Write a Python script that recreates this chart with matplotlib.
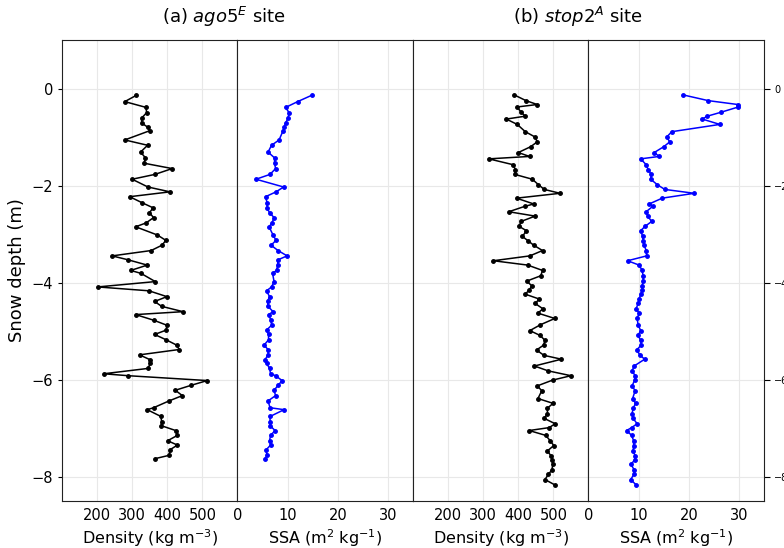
import matplotlib
matplotlib.use('Agg')
import matplotlib.pyplot as plt
import numpy as np

# site (a) ago5E
depth_a = [-0.14, -0.27, -0.39, -0.50, -0.61, -0.71, -0.80, -0.87, -1.06, -1.17,
           -1.31, -1.43, -1.54, -1.65, -1.77, -1.87, -2.03, -2.13, -2.23, -2.35,
           -2.46, -2.56, -2.66, -2.77, -2.85, -3.02, -3.13, -3.23, -3.34, -3.45,
           -3.53, -3.64, -3.75, -3.81, -3.98, -4.09, -4.17, -4.29, -4.39, -4.49,
           -4.60, -4.66, -4.78, -4.88, -4.98, -5.07, -5.18, -5.29, -5.38, -5.49,
           -5.59, -5.66, -5.77, -5.88, -5.92, -6.02, -6.12, -6.22, -6.33, -6.44,
           -6.58, -6.62, -6.76, -6.87, -6.95, -7.05, -7.15, -7.26, -7.35, -7.45,
           -7.56, -7.63]
dens_a = [312, 279, 340, 341, 327, 327, 345, 350, 279, 344,
          324, 338, 334, 414, 365, 300, 345, 408, 293, 327,
          360, 349, 361, 340, 310, 372, 396, 385, 354, 243,
          288, 343, 296, 325, 366, 202, 348, 399, 364, 384,
          445, 310, 363, 399, 397, 364, 397, 427, 434, 321,
          351, 352, 345, 219, 289, 514, 467, 423, 443, 405,
          361, 343, 382, 384, 383, 424, 429, 401, 429, 407,
          406, 365]
ssa_a = [14.8, 12.0, 9.6, 10.3, 10.1, 9.6, 9.3, 9.1, 8.3, 6.8,
         6.1, 7.4, 7.4, 7.6, 6.5, 3.7, 9.2, 7.7, 5.6, 5.9,
         5.9, 6.4, 7.3, 6.9, 6.3, 7.1, 7.7, 6.7, 8.1, 9.9,
         8.1, 8.0, 7.8, 7.0, 7.3, 6.8, 5.8, 6.4, 6.0, 6.1,
         7.1, 6.2, 6.7, 6.8, 5.8, 6.2, 6.2, 5.3, 6.1, 6.1,
         5.5, 5.8, 6.4, 6.6, 7.6, 8.9, 8.1, 7.3, 7.6, 6.1,
         6.5, 9.3, 6.5, 6.5, 6.5, 7.5, 6.6, 6.4, 6.6, 5.7,
         5.9, 5.5]

# site (b) stop2A
depth_b = [-0.13, -0.25, -0.33, -0.38, -0.49, -0.57, -0.63, -0.74, -0.89, -1.00,
           -1.10, -1.20, -1.32, -1.40, -1.45, -1.57, -1.67, -1.77, -1.87, -1.98,
           -2.08, -2.16, -2.26, -2.38, -2.43, -2.54, -2.63, -2.74, -2.84, -2.93,
           -3.05, -3.14, -3.23, -3.34, -3.45, -3.55, -3.64, -3.75, -3.86, -3.97,
           -4.07, -4.16, -4.24, -4.34, -4.43, -4.54, -4.63, -4.74, -4.87, -4.99,
           -5.09, -5.19, -5.29, -5.39, -5.50, -5.58, -5.72, -5.82, -5.92, -6.01,
           -6.13, -6.23, -6.39, -6.49, -6.59, -6.70, -6.80, -6.91, -6.99, -7.05,
           -7.15, -7.26, -7.36, -7.47, -7.57, -7.65, -7.75, -7.86, -7.95, -8.06,
           -8.17]
dens_b = [388, 422, 454, 397, 408, 420, 366, 397, 420, 448,
          454, 435, 400, 432, 316, 385, 392, 390, 440, 457,
          474, 519, 395, 444, 418, 373, 448, 408, 402, 423,
          412, 428, 444, 469, 433, 329, 427, 469, 464, 424,
          439, 430, 420, 460, 448, 470, 456, 504, 463, 433,
          462, 476, 472, 452, 473, 523, 446, 485, 550, 498,
          454, 467, 456, 499, 483, 483, 474, 505, 488, 431,
          478, 491, 501, 483, 493, 497, 498, 496, 486, 476,
          504]
ssa_b = [18.8, 23.9, 29.8, 29.9, 26.4, 23.7, 22.7, 26.2, 16.6, 15.6,
         16.2, 15.0, 13.1, 14.1, 10.4, 11.5, 11.9, 12.5, 12.4, 13.7,
         15.2, 21.1, 14.7, 12.1, 12.8, 11.5, 11.8, 12.6, 11.3, 10.4,
         10.8, 10.9, 11.1, 11.5, 11.6, 7.8, 10.1, 10.7, 10.9, 10.9,
         10.7, 10.7, 10.4, 10.1, 9.9, 9.5, 10.1, 9.7, 9.9, 10.4,
         9.9, 10.4, 10.5, 9.6, 10.3, 11.2, 9.1, 8.7, 9.3, 9.2,
         8.7, 9.3, 8.8, 9.4, 8.9, 8.7, 8.9, 9.7, 8.6, 7.6,
         8.6, 9.0, 9.0, 8.9, 9.3, 9.2, 8.5, 9.1, 9.1, 8.4,
         9.5]

titles = ['(a) $ago5^E$ site', '(b) $stop2^A$ site']
dens_label = 'Density (kg m$^{-3}$)'
ssa_label = 'SSA (m$^2$ kg$^{-1}$)'

fig, axes = plt.subplots(1, 4, figsize=(7.84, 5.48), sharey=True)
fig.subplots_adjust(left=0.079, right=0.9745, top=0.927, bottom=0.086, wspace=0)

series = [(depth_a, dens_a, 'k'), (depth_a, ssa_a, 'b'),
          (depth_b, dens_b, 'k'), (depth_b, ssa_b, 'b')]
for i, (ax, (d, v, c)) in enumerate(zip(axes, series)):
    ax.plot(v, d, '.-', color=c, lw=1.1, ms=5)
    ax.grid(True, color='#e8e8e8', lw=0.8)
    ax.set_axisbelow(True)
    for sp in ax.spines.values():
        sp.set_color('#222222')
    if i % 2 == 0:
        ax.set_xlim(100, 600)
        ax.set_xticks([200, 300, 400, 500])
        ax.set_xlabel(dens_label, fontsize=11.5, labelpad=3)
    else:
        ax.set_xlim(0, 35)
        ax.set_xticks([0, 10, 20, 30])
        ax.set_xlabel(ssa_label, fontsize=11.5, labelpad=3)
    ax.tick_params(axis='x', labelsize=10.5, length=0, pad=5)
    if i > 0:
        ax.tick_params(axis='y', left=False, labelleft=False)

axes[0].set_ylim(-8.5, 1)
axes[0].set_yticks([0, -2, -4, -6, -8])
axes[0].tick_params(axis='y', labelsize=10.5, length=3)
axes[0].set_ylabel('Snow depth (m)', fontsize=13)
axes[3].tick_params(axis='y', right=True, labelright=True, labelsize=7, length=4)

fig.text(0.286, 0.969, titles[0], ha='center', va='center', fontsize=13)
fig.text(0.737, 0.969, titles[1], ha='center', va='center', fontsize=13)

plt.savefig('out.png', dpi=100)
